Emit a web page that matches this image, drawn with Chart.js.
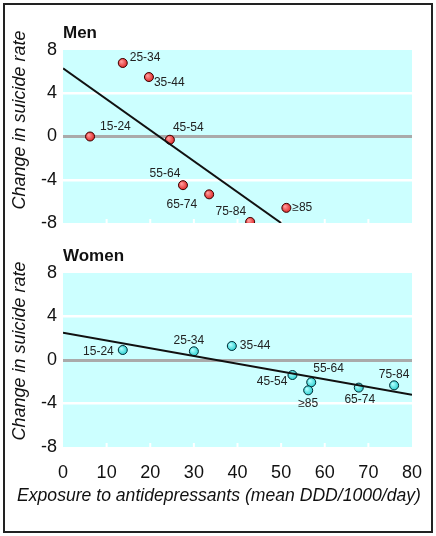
<!DOCTYPE html>
<html>
<head>
<meta charset="utf-8">
<script src="https://cdn.jsdelivr.net/npm/chart.js@4.4.0/dist/chart.umd.min.js"></script>
<style>
  html, body { margin: 0; padding: 0; background: #fff; }
  #marco { position: relative; width: 436px; height: 536px; }
  #borde { position: absolute; left: 3px; top: 3px; width: 430px; height: 530px; border: 2px solid #222; box-sizing: border-box; }
  .caja { position: absolute; left: 0; width: 436px; }
  #caja-men { top: 0; height: 240px; }
  #caja-women { top: 240px; height: 296px; }
</style>
</head>
<body>
<div id="marco">
  <div id="borde"></div>
  <div class="caja" id="caja-men"><canvas id="men"></canvas></div>
  <div class="caja" id="caja-women"><canvas id="women"></canvas></div>
</div>
<script>
// datos
const grupos = ["15-24", "25-34", "35-44", "45-54", "55-64", "65-74", "75-84", "≥85"];

const menExposicion = [6.2, 13.7, 19.7, 24.5, 27.5, 33.5, 42.9, 51.2];
const menCambio = [0.0, 6.8, 5.5, -0.3, -4.5, -5.35, -7.9, -6.6];
const menRectaX = [0, 50];
const menRectaY = [6.3, -8];

const womenExposicion = [13.7, 30.0, 38.7, 52.6, 56.9, 67.8, 75.9, 56.2];
const womenCambio = [0.92, 0.8, 1.29, -1.38, -2.05, -2.54, -2.33, -2.79];
const womenRectaX = [0, 80];
const womenRectaY = [2.5, -3.2];

const yTicks = [-8, -4, 0, 4, 8];
const xTicks = [0, 10, 20, 30, 40, 50, 60, 70, 80];

// donde va cada etiqueta respecto a su punto [dx, dy, alineacion]
const menPosEtiqueta = [
  [10, -10, "left"], [7, -5, "left"], [5, 6, "left"], [3, -12, "left"],
  [-18, -11, "center"], [-12, 10, "right"], [-4, -10, "right"], [6, 0, "left"],
];
const womenPosEtiqueta = [
  [-9, 2, "right"], [-5, -11, "center"], [8, 0, "left"], [-5, 7, "right"],
  [2, -14, "left"], [1, 12, "center"], [0, -11, "center"], [0, 13, "center"],
];

const fuente = '"Liberation Sans", Arial, sans-serif';
const fuenteTicks = '"Liberation Sans Narrow", "Liberation Sans", Arial, sans-serif';

// fondo celeste del area del grafico
const fondo = {
  id: "fondo",
  beforeDraw(chart) {
    const a = chart.chartArea;
    const ctx = chart.ctx;
    ctx.save();
    ctx.fillStyle = "#ccffff";
    ctx.fillRect(a.left, a.top, a.right - a.left, a.bottom - a.top);
    ctx.restore();
  },
};

// las marquitas blancas abajo, dentro del area
const marcas = {
  id: "marcas",
  beforeDatasetsDraw(chart) {
    const a = chart.chartArea;
    const x = chart.scales.x;
    const ctx = chart.ctx;
    ctx.save();
    ctx.strokeStyle = "#fff";
    ctx.lineWidth = 2;
    xTicks.slice(1, -1).forEach((v) => {
      const px = x.getPixelForValue(v);
      ctx.beginPath();
      ctx.moveTo(px, a.bottom);
      ctx.lineTo(px, a.bottom - 4);
      ctx.stroke();
    });
    ctx.restore();
  },
};

// textos: etiquetas de grupos, titulo del panel y titulos de ejes
const textos = {
  id: "textos",
  afterDatasetsDraw(chart, args, opts) {
    const ctx = chart.ctx;
    const a = chart.chartArea;
    const meta = chart.getDatasetMeta(1);
    ctx.save();
    ctx.fillStyle = "#222";
    ctx.font = "12px " + fuente;
    ctx.textBaseline = "middle";
    meta.data.forEach((pt, i) => {
      const [dx, dy, al] = opts.pos[i];
      ctx.textAlign = al;
      ctx.fillText(grupos[i], pt.x + dx, pt.y + dy);
    });

    ctx.fillStyle = "#111";
    ctx.font = "bold 17px " + fuente;
    ctx.textAlign = "left";
    ctx.textBaseline = "alphabetic";
    ctx.fillText(opts.titulo, a.left, a.top - 12);

    ctx.font = "italic 18px " + fuente;
    ctx.textAlign = "center";
    ctx.textBaseline = "middle";
    ctx.save();
    ctx.translate(20, opts.yTituloCentro);
    ctx.rotate(-Math.PI / 2);
    ctx.fillText("Change in suicide rate", 0, 0);
    ctx.restore();

    if (opts.xTitulo) {
      ctx.font = "italic 17.6px " + fuente;
      ctx.fillText(opts.xTitulo, 219, 256);
    }
    ctx.restore();
  },
};

// relleno con brillito arriba a la izquierda (efecto bolita)
function rellenoBolita(claro, base) {
  return (c) => {
    const sx = c.chart.scales.x;
    const sy = c.chart.scales.y;
    if (!sx || !sy || !c.raw) return base;
    const px = sx.getPixelForValue(c.raw.x);
    const py = sy.getPixelForValue(c.raw.y);
    if (!isFinite(px) || !isFinite(py)) return base;
    const g = c.chart.ctx.createRadialGradient(px - 1.5, py - 1.5, 0.5, px, py, 5);
    g.addColorStop(0, claro);
    g.addColorStop(1, base);
    return g;
  };
}

function armarGrafico(idCanvas, xs, ys, rx, ry, colorPunto, bordePunto, opcionesTexto, conEjeX, padTop) {
  const puntos = xs.map((x, i) => ({ x: x, y: ys[i] }));
  const recta = rx.map((x, i) => ({ x: x, y: ry[i] }));

  return new Chart(document.getElementById(idCanvas), {
    type: "scatter",
    data: {
      datasets: [
        {
          type: "line",
          data: recta,
          borderColor: "#111",
          borderWidth: 2,
          pointRadius: 0,
          fill: false,
        },
        {
          data: puntos,
          backgroundColor: rellenoBolita(colorPunto[0], colorPunto[1]),
          borderColor: bordePunto,
          borderWidth: 1,
          pointRadius: 4.5,
        },
      ],
    },
    options: {
      responsive: true,
      maintainAspectRatio: false,
      animation: false,
      layout: { padding: { top: padTop, right: 24, bottom: conEjeX ? 0 : 17, left: 0 } },
      plugins: {
        legend: { display: false },
        tooltip: { enabled: false },
        textos: opcionesTexto,
      },
      scales: {
        x: {
          type: "linear",
          min: 0,
          max: 80,
          display: conEjeX,
          afterFit: (s) => { s.height = conEjeX ? 89 : 0; },
          afterBuildTicks: (s) => { s.ticks = xTicks.map((v) => ({ value: v })); },
          grid: { display: false },
          border: { display: false },
          ticks: {
            color: "#111",
            padding: 7,
            maxRotation: 0,
            font: { family: fuenteTicks, size: 18 },
          },
        },
        y: {
          min: -8,
          max: 8,
          afterFit: (s) => { s.width = 63; },
          grid: {
            drawTicks: false,
            color: (c) => (c.tick.value === 0 ? "#aaaaaa" : Math.abs(c.tick.value) === 8 ? "rgba(0,0,0,0)" : "#ffffff"),
            lineWidth: (c) => (c.tick.value === 0 ? 3 : 2.5),
          },
          border: { display: false },
          ticks: {
            stepSize: 2,
            color: "#111",
            padding: 6,
            font: { family: fuenteTicks, size: 18 },
            callback: (v) => (yTicks.includes(v) ? String(v) : ""),
          },
        },
      },
    },
    plugins: [fondo, marcas, textos],
  });
}

armarGrafico("men", menExposicion, menCambio, menRectaX, menRectaY, ["#ff9a9a", "#dd2020"], "#3a0000",
  { pos: menPosEtiqueta, titulo: "Men", yTituloCentro: 120 }, false, 50);

armarGrafico("women", womenExposicion, womenCambio, womenRectaX, womenRectaY, ["#b0ffff", "#22cccc"], "#002a33",
  { pos: womenPosEtiqueta, titulo: "Women", yTituloCentro: 111, xTitulo: "Exposure to antidepressants (mean DDD/1000/day)" }, true, 33);
</script>
</body>
</html>
